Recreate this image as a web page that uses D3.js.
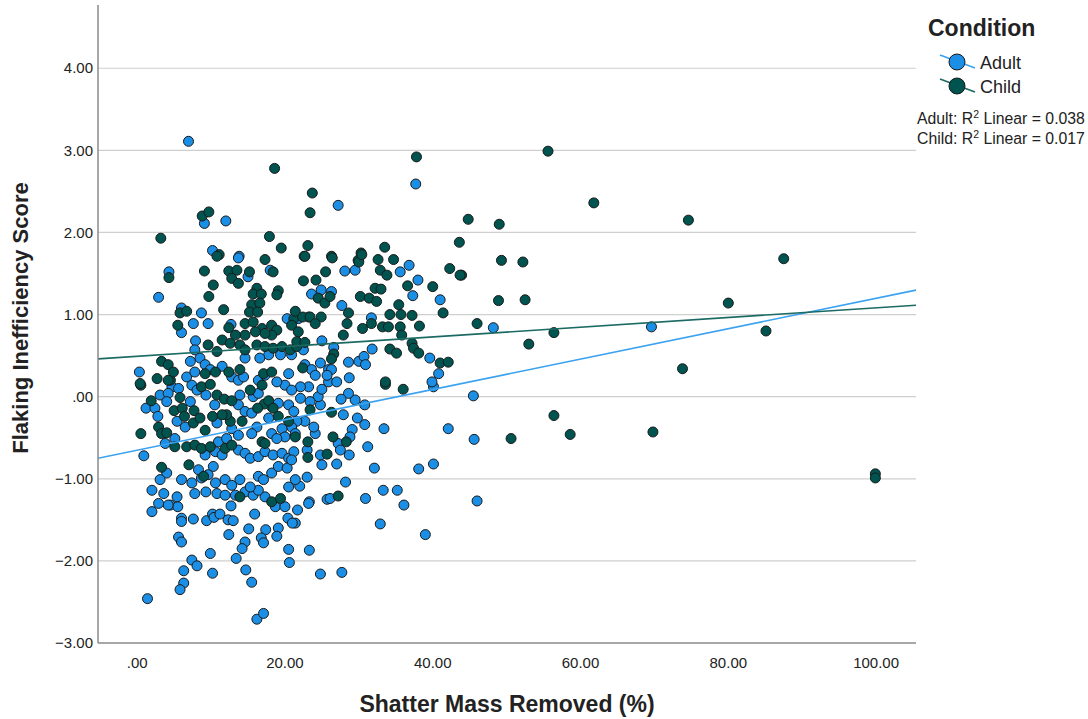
<!DOCTYPE html>
<html>
<head>
<meta charset="utf-8">
<script src="https://cdn.jsdelivr.net/npm/d3@7"></script>
<style>
body { margin: 0; background: #fff; }
text { font-family: Arial, "Liberation Sans", sans-serif; fill: #222; }
</style>
</head>
<body>
<script>
// scatter: flaking inefficiency vs shatter mass, by condition

var conditions = ['Adult', 'Child'];
var pointColors = ['#1a8fe5', '#00544f'];
var lineColors = ['#3aa2f0', '#1b6a63'];
var r2Values = ['0.038', '0.017'];
// fit lines: score = intercept + slope * mass
var fitIntercepts = [-0.652, 0.492];
var fitSlopes = [0.0185, 0.0059];

var xTicks = [0, 20, 40, 60, 80, 100];
var yTicks = [-3, -2, -1, 0, 1, 2, 3, 4];

// [shatter mass %, flaking inefficiency]
var adultPts = [
  [6.95,3.11],[9.1,2.11],[12.0,2.14],[10.2,1.78],[13.8,1.71],[37.7,2.59],[27.2,2.33],
  [48.2,0.84],[69.6,0.85],[45.5,0.01],[45.6,-0.52],[46.0,-1.27],
  [40.1,0.12],[30.8,-0.10],[29.5,-0.04],[28.6,0.04],[27.6,-0.03],[33.4,-0.39],[42.1,-0.39],[31.2,-0.61],
  [32.1,-0.87],[38.1,-0.88],[40.1,-0.82],[28.2,-1.04],[23.0,-0.98],[22.0,-1.09],[33.3,-1.14],[35.2,-1.14],
  [30.9,-1.24],[25.7,-1.25],[26.1,-1.24],[23.3,-1.28],[36.1,-1.32],[30.8,-0.34],[29.1,-0.40],[28.8,-0.49],
  [29.8,-0.26],[27.9,-0.22],[27.2,-0.57],[27.5,-0.65],[28.7,-0.71],[24.8,-0.71],[25.0,-0.83],[27.0,-0.82],
  [24.1,-0.45],[23.9,-0.37],[22.7,-0.30],[23.0,-0.65],[24.8,-0.10],[24.5,0.0],[25.0,0.09],[23.2,0.12],
  [22.1,0.12],[25.9,0.18],[22.1,-0.02],[23.4,-0.06],[21.6,-0.30],[23.2,-1.30],
  [21.7,-1.38],[21.4,-1.54],[32.9,-1.55],[39.0,-1.68],[23.3,-1.87],[24.8,-2.16],[27.7,-2.14],
  [2.0,-1.40],[4.5,-1.32],[5.5,-1.34],[6.0,-1.48],[6.0,-1.52],[7.6,-1.49],[9.4,-1.51],[10.2,-1.43],
  [10.4,-1.47],[11.2,-1.43],[12.3,-1.50],[13.0,-1.51],[12.7,-1.33],[15.9,-1.43],[15.1,-1.61],[17.4,-1.62],
  [16.8,-1.72],[17.1,-1.78],[19.1,-1.60],[18.9,-1.70],[20.4,-1.48],[21.0,-1.54],[18.7,-1.34],[12.4,-1.68],
  [14.6,-1.77],[14.2,-1.85],[20.5,-1.86],[20.6,-2.02],[5.6,-1.71],[6.0,-1.77],[9.9,-1.91],[7.4,-1.99],
  [8.1,-2.06],[6.3,-2.12],[10.2,-2.15],[13.4,-1.97],[14.7,-2.11],[15.5,-2.26],[6.3,-2.27],[5.8,-2.35],
  [1.4,-2.46],[16.2,-2.71],[17.1,-2.64],
  [3.1,0.02],[1.2,-0.14],[2.4,-0.14],[4.7,0.12],[4.2,0.04],[5.6,0.10],[7.4,0.14],[8.1,0.08],[9.3,0.02],
  [10.5,-0.10],[13.9,0.02],[13.7,-0.10],[15.7,0.0],[16.4,0.04],[18.2,-0.12],[19.1,-0.08],[20.0,0.14],
  [20.9,0.08],[20.5,-0.10],[21.2,-0.18],[20.9,-0.37],[21.4,-0.45],[19.6,-0.39],[20.0,-0.49],[18.2,-0.45],
  [18.9,-0.51],[16.2,-0.37],[15.5,-0.45],[12.8,-0.39],[13.7,-0.47],[10.8,-0.32],[5.4,-0.30],[6.5,-0.37],
  [2.8,-0.24],[3.8,-0.57],[5.1,-0.51],[0.9,-0.72],[10.6,-0.67],[11.5,-0.71],[9.2,-0.71],[13.7,-0.65],
  [14.6,-0.69],[15.3,-0.75],[16.4,-0.73],[17.3,-0.67],[18.4,-0.71],[19.6,-0.69],[20.5,-0.75],[21.2,-0.67],
  [4.0,-0.93],[3.1,-1.01],[2.0,-1.14],[3.6,-1.18],[5.4,-1.22],[4.2,-1.32],[6.0,-1.01],[7.4,-1.05],
  [8.7,-0.99],[8.3,-0.89],[10.3,-0.85],[9.6,-0.95],[10.6,-1.05],[11.9,-1.01],[12.8,-1.08],[13.9,-1.01],
  [7.8,-1.18],[9.3,-1.16],[10.8,-1.18],[11.9,-1.20],[13.3,-1.20],[14.6,-1.16],[15.7,-1.20],[16.4,-0.97],
  [17.1,-1.01],[18.2,-0.93],[19.1,-0.85],[20.3,-0.87],[20.9,-0.77],[17.3,-1.22],[16.4,-1.14],[15.3,-1.10],
  [20.5,-1.10],[21.4,-1.01],[20.0,-1.34],[2.9,-1.30],[11.0,-0.55],[12.1,-0.51],[4.0,-0.06],[7.2,-0.06],
  [14.6,-0.18],[15.5,-0.20],[17.8,-0.26],
  [13.7,1.69],[4.3,1.52],[15.0,1.46],[18.0,1.54],[2.9,1.21],[6.0,1.08],[8.7,1.02],[7.6,0.89],[9.6,0.89],
  [6.0,0.78],[12.7,0.88],[20.3,0.95],[7.9,0.68],[17.8,0.51],[19.4,0.51],[20.9,0.51],[14.6,0.47],[16.6,0.47],
  [7.8,0.57],[8.5,0.47],[7.2,0.43],[9.2,0.39],[0.3,0.30],[6.7,0.24],[7.8,0.30],[9.9,0.33],[11.5,0.37],
  [12.8,0.24],[13.7,0.20],[14.4,0.24],[16.4,0.20],[17.3,0.26],[18.9,0.18],[20.5,0.28],
  [28.1,1.53],[29.5,1.54],[35.6,1.52],[36.8,1.60],[38.0,1.42],[23.6,1.25],[24.9,1.30],[26.3,1.28],
  [37.3,1.23],[41.0,1.18],[27.7,1.11],[23.2,0.97],[21.8,0.95],[31.7,0.96],[25.0,0.68],[26.6,0.60],
  [22.5,0.57],[31.8,0.58],[39.6,0.47],[40.8,0.28],[28.6,0.42],[30.0,0.43],[30.7,0.49],[30.9,0.39],
  [22.7,0.39],[23.6,0.33],[24.8,0.41],[25.9,0.33],[26.3,0.33],[24.1,0.26],[25.7,0.26],[28.7,0.23],
  [27.0,0.18],[39.9,0.18]
];

var childPts = [
  [18.6,2.78],[8.8,2.20],[9.7,2.25],[3.2,1.93],[17.9,1.95],[19.5,1.81],[11.1,1.73],[17.3,1.67],
  [37.8,2.92],[23.7,2.48],[23.4,2.24],[44.8,2.16],[23.1,1.84],[22.6,1.71],[26.3,1.71],[30.3,1.75],
  [33.5,1.82],[32.6,1.67],[34.7,1.67],[43.6,1.88],[29.9,1.66],
  [55.6,2.99],[61.8,2.36],[49.0,2.10],[74.6,2.15],[49.3,1.66],[52.2,1.64],[87.5,1.68],[43.9,1.48],
  [48.9,1.17],[52.5,1.18],[80.0,1.14],[46.0,0.89],[56.4,0.78],[53.0,0.64],[85.1,0.80],[73.8,0.34],
  [56.4,-0.23],[50.6,-0.51],[58.6,-0.46],[69.8,-0.43],[99.9,-0.94],[99.9,-0.99],
  [36.0,0.09],[33.6,0.15],[27.2,-1.21],[26.3,-0.19],[28.3,-0.55],[26.5,-0.49],[25.7,-0.70],[23.1,-0.55],
  [23.1,-0.74],[23.4,-0.16],[21.4,-0.49],
  [0.5,0.14],[1.9,-0.05],[5.0,-0.17],[6.1,-0.14],[7.7,-0.17],[5.8,-0.01],[4.5,0.20],[8.7,0.12],[9.9,0.15],
  [10.8,0.02],[11.8,-0.03],[12.8,-0.05],[15.3,0.08],[16.9,0.14],[17.2,-0.09],[17.8,-0.05],[18.4,-0.14],
  [16.3,-0.14],[20.5,-0.30],[16.9,-0.55],[17.3,-0.57],[14.2,-0.30],[12.6,-0.30],[12.1,-0.22],[11.5,-0.22],
  [10.2,-0.24],[9.2,-0.41],[7.6,-0.32],[6.4,-0.24],[2.9,-0.37],[3.3,-0.45],[4.0,-0.44],[0.5,-0.45],
  [5.1,-0.61],[6.7,-0.61],[7.8,-0.59],[8.7,-0.63],[9.9,-0.61],[11.9,-0.63],[12.8,-0.59],[3.3,-0.86],
  [7.0,-0.83],[9.0,-0.97],[13.9,-1.22],[18.2,-1.28],[19.4,-1.24],[8.5,-0.26],[19.1,-0.24],
  [10.8,1.71],[4.3,1.45],[9.1,1.53],[12.4,1.53],[13.5,1.54],[12.8,1.44],[13.7,1.38],[15.2,1.52],
  [18.4,1.52],[10.3,1.36],[9.7,1.22],[16.2,1.32],[15.7,1.25],[16.8,1.25],[19.1,1.29],[18.9,1.24],
  [15.5,1.12],[16.6,1.14],[15.2,1.03],[16.3,1.03],[5.8,1.02],[6.7,1.04],[11.7,1.06],[5.5,0.87],
  [12.4,0.84],[21.2,0.95],[20.9,0.87],[14.6,0.89],[15.7,0.91],[16.9,0.83],[18.2,0.87],[18.9,0.81],
  [18.2,0.75],[17.3,0.77],[16.0,0.79],[14.6,0.75],[13.3,0.75],[9.6,0.63],[10.8,0.55],[11.5,0.69],
  [12.6,0.65],[13.9,0.63],[14.6,0.57],[16.2,0.63],[17.3,0.61],[18.4,0.59],[19.6,0.61],[20.7,0.57],
  [21.6,0.61],[3.3,0.43],[4.2,0.39],[4.9,0.30],[2.7,0.22],[0.4,0.16],[4.2,0.20],[9.2,0.28],[10.6,0.30],
  [12.4,0.30],[13.9,0.33],[17.1,0.28],[18.2,0.30],
  [22.7,1.71],[26.4,1.69],[30.0,1.64],[30.4,1.73],[25.5,1.52],[32.9,1.54],[33.8,1.48],[42.3,1.56],
  [43.7,1.48],[22.5,1.41],[24.2,1.42],[36.6,1.35],[40.0,1.34],[24.5,1.20],[25.4,1.14],[26.1,1.22],
  [30.2,1.22],[31.4,1.20],[32.4,1.16],[32.2,1.32],[33.0,1.31],[28.6,1.02],[28.4,0.89],[21.4,1.04],
  [22.4,0.97],[23.4,0.97],[24.9,0.97],[24.1,0.89],[35.4,1.12],[34.2,1.0],[35.7,1.0],[37.2,0.99],
  [38.2,0.86],[41.4,1.02],[31.7,0.89],[30.5,0.83],[33.2,0.85],[34.0,0.85],[35.6,0.85],[35.8,0.75],
  [27.9,0.75],[21.8,0.79],[21.6,0.67],[22.7,0.66],[26.6,0.52],[26.3,0.46],[34.2,0.58],[35.1,0.53],
  [37.2,0.65],[37.4,0.59],[38.1,0.53],[41.0,0.41],[42.1,0.42],[22.4,0.35],[33.6,0.18]
];

var chart = { width: 1088, height: 719 };
var plot = { left: 98, right: 916, top: 5, bottom: 643 };

var svg = d3.select('body').append('svg')
  .attr('width', chart.width)
  .attr('height', chart.height);

var x = d3.scaleLinear().domain([-5.3, 105.4]).range([plot.left, plot.right]);
var y = d3.scaleLinear().domain([-3, 4.77]).range([plot.bottom, plot.top]);

var fmt = function(v) {
  return d3.format('.2f')(v).replace(/^0\./, '.').replace(/^-0\./, '-.');
};

// grid lines
svg.append('g').selectAll('line').data(yTicks.filter(function(d) { return d > -3; }))
  .enter().append('line')
  .attr('x1', plot.left).attr('x2', plot.right)
  .attr('y1', function(d) { return y(d); })
  .attr('y2', function(d) { return y(d); })
  .attr('stroke', '#cfcfcf')
  .attr('stroke-width', 1.2);

// y tick labels
svg.append('g').selectAll('text').data(yTicks)
  .enter().append('text')
  .attr('x', 93)
  .attr('y', function(d) { return y(d); })
  .attr('dy', '0.35em')
  .attr('text-anchor', 'end')
  .style('font-size', '15px')
  .text(fmt);

// x tick labels
svg.append('g').selectAll('text').data(xTicks)
  .enter().append('text')
  .attr('x', function(d) { return x(d); })
  .attr('y', 668)
  .attr('text-anchor', 'middle')
  .style('font-size', '15px')
  .text(fmt);

// clip for fit lines
svg.append('clipPath').attr('id', 'plotclip')
  .append('rect')
  .attr('x', plot.left).attr('y', plot.top)
  .attr('width', plot.right - plot.left)
  .attr('height', plot.bottom - plot.top);

var drawPoints = function(pts, i) {
  svg.append('g').selectAll('circle').data(pts)
    .enter().append('circle')
    .attr('cx', function(d) { return x(d[0]); })
    .attr('cy', function(d) { return y(d[1]); })
    .attr('r', 5)
    .attr('fill', pointColors[i])
    .attr('stroke', '#1a1a1a')
    .attr('stroke-width', 1);
};

drawPoints(adultPts, 0);
drawPoints(childPts, 1);

// fit lines
var xDom = x.domain();
conditions.forEach(function(c, i) {
  var line = d3.line()
    .x(function(d) { return x(d); })
    .y(function(d) { return y(fitIntercepts[i] + fitSlopes[i] * d); });
  svg.append('path')
    .datum(xDom)
    .attr('d', line)
    .attr('clip-path', 'url(#plotclip)')
    .attr('fill', 'none')
    .attr('stroke', lineColors[i])
    .attr('stroke-width', 1.6);
});

// axes lines
svg.append('line')
  .attr('x1', plot.left).attr('x2', plot.left)
  .attr('y1', plot.top).attr('y2', plot.bottom)
  .attr('stroke', '#8a8a8a').attr('stroke-width', 1.5);
svg.append('line')
  .attr('x1', plot.left).attr('x2', plot.right)
  .attr('y1', plot.bottom).attr('y2', plot.bottom)
  .attr('stroke', '#8a8a8a').attr('stroke-width', 1.5);

// axis titles
svg.append('text')
  .attr('x', (plot.left + plot.right) / 2)
  .attr('y', 712)
  .attr('text-anchor', 'middle')
  .style('font-size', '23px')
  .style('font-weight', 'bold')
  .text('Shatter Mass Removed (%)');

svg.append('text')
  .attr('transform', 'translate(28,' + 318 + ') rotate(-90)')
  .attr('text-anchor', 'middle')
  .style('font-size', '22px')
  .style('font-weight', 'bold')
  .text('Flaking Inefficiency Score');

// legend
svg.append('text')
  .attr('x', 928).attr('y', 36)
  .style('font-size', '23px')
  .style('font-weight', 'bold')
  .text('Condition');

var legend = svg.append('g').selectAll('g').data(conditions)
  .enter().append('g')
  .attr('transform', function(d, i) { return 'translate(957,' + (62 + i * 24) + ')'; });

legend.append('line')
  .attr('x1', -17).attr('y1', -7).attr('x2', 18).attr('y2', 6)
  .attr('stroke', function(d, i) { return lineColors[i]; })
  .attr('stroke-width', 1.6);
legend.append('circle')
  .attr('r', 8)
  .attr('fill', function(d, i) { return pointColors[i]; })
  .attr('stroke', '#1a1a1a')
  .attr('stroke-width', 1);
legend.append('text')
  .attr('x', 23).attr('y', 7)
  .style('font-size', '18px')
  .text(function(d) { return d; });

var r2 = svg.append('g').selectAll('text').data(conditions)
  .enter().append('text')
  .attr('x', 917)
  .attr('y', function(d, i) { return 124 + i * 20; })
  .style('font-size', '15.8px');
r2.append('tspan').text(function(d) { return d + ': R'; });
r2.append('tspan').attr('dy', -6).style('font-size', '10.5px').text('2');
r2.append('tspan').attr('dy', 6).text(function(d, i) { return ' Linear = ' + r2Values[i]; });
</script>
</body>
</html>
